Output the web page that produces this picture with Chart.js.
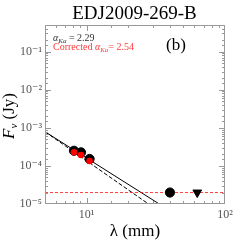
<!DOCTYPE html>
<html>
<head>
<meta charset="utf-8">
<script src="https://cdn.jsdelivr.net/npm/chart.js@4"></script>
<style>
  html, body { margin: 0; padding: 0; background: #fff; }
  #wrap { width: 249px; height: 249px; }
</style>
</head>
<body>
<div id="wrap"><canvas id="sed" width="249" height="249"></canvas></div>
<script>
// axis ranges and labelled ticks
const xRange = [5, 100];
const yRange = [1e-5, 0.5];
const xTickValues = [10, 100];
const xTickLabels = ['10¹', '10²'];
const yTickValues = [1e-5, 1e-4, 1e-3, 1e-2, 1e-1];
const yTickLabels = ['10⁻⁵', '10⁻⁴', '10⁻³', '10⁻²', '10⁻¹'];

// measured fluxes (mm, Jy)
const wavelengths = [8.1, 9.1, 10.5];
const fluxObserved = [2.5e-4, 2.27e-4, 1.52e-4];
const fluxCorrected = [2.27e-4, 1.93e-4, 1.35e-4];
const extraWavelengths = [40];
const extraFluxes = [2e-5];
const limitWavelengths = [63];
const limitFluxes = [2e-5];

// power-law fits, endpoints
const fitWavelengths = [5, 33.5];
const fitFluxes = [7.9e-4, 1e-5];
const fitCorrWavelengths = [5, 28];
const fitCorrFluxes = [7.9e-4, 1e-5];
const noiseWavelengths = [5, 100];
const noiseFluxes = [2e-5, 2e-5];

const serif = "'Liberation Serif', 'DejaVu Serif', serif";

function pts(xs, ys) {
    return xs.map(function(x, i) { return { x: x, y: ys[i] }; });
}

function labelFor(values, labels, v) {
    for (let i = 0; i < values.length; i++) {
        if (Math.abs(Math.log10(v) - Math.log10(values[i])) < 1e-6) return labels[i];
    }
    return '';
}

function isMajor(values, v) {
    return values.some(function(t) { return Math.abs(Math.log10(v) - Math.log10(t)) < 1e-6; });
}

// frame, inward ticks on all four sides, title and notes
const decorations = {
    id: 'decorations',
    afterDraw: function(chart) {
        const ctx = chart.ctx;
        const a = chart.chartArea;
        const xs = chart.scales.x, ys = chart.scales.y;
        ctx.save();
        ctx.strokeStyle = '#999';
        ctx.lineWidth = 1;
        ctx.strokeRect(a.left + 0.5, a.top + 0.5, a.right - a.left - 1, a.bottom - a.top - 1);
        ctx.beginPath();
        xs.ticks.forEach(function(t) {
            const px = Math.round(xs.getPixelForValue(t.value)) + 0.5;
            if (px < a.left + 1 || px > a.right - 1) return;
            const len = isMajor(xTickValues, t.value) ? 6 : 3;
            ctx.moveTo(px, a.bottom); ctx.lineTo(px, a.bottom - len);
            ctx.moveTo(px, a.top); ctx.lineTo(px, a.top + len);
        });
        ys.ticks.forEach(function(t) {
            const py = Math.round(ys.getPixelForValue(t.value)) + 0.5;
            if (py < a.top + 1 || py > a.bottom - 1) return;
            const len = isMajor(yTickValues, t.value) ? 6 : 3;
            ctx.moveTo(a.left, py); ctx.lineTo(a.left + len, py);
            ctx.moveTo(a.right, py); ctx.lineTo(a.right - len, py);
        });
        ctx.stroke();

        // title
        ctx.fillStyle = '#000';
        ctx.textAlign = 'center';
        ctx.textBaseline = 'middle';
        ctx.font = '19px ' + serif;
        ctx.fillText('EDJ2009-269-B', 134.5, 14);

        // x axis title
        ctx.font = '17px ' + serif;
        ctx.fillText('λ (mm)', 135, 232);

        // y axis title, rotated
        ctx.save();
        ctx.translate(10, 116);
        ctx.rotate(-Math.PI / 2);
        ctx.textAlign = 'left';
        ctx.textBaseline = 'middle';
        ctx.font = 'italic 17px ' + serif;
        const wF = ctx.measureText('F').width;
        ctx.font = 'italic 11px ' + serif;
        const wNu = ctx.measureText('ν').width;
        ctx.font = '17px ' + serif;
        const wRest = ctx.measureText(' (Jy)').width;
        let x0 = -(wF + wNu + wRest) / 2;
        ctx.font = 'italic 17px ' + serif;
        ctx.fillText('F', x0, 0);
        ctx.font = 'italic 11px ' + serif;
        ctx.fillText('ν', x0 + wF, 4);
        ctx.font = '17px ' + serif;
        ctx.fillText(' (Jy)', x0 + wF + wNu, 0);
        ctx.restore();

        // spectral index notes
        function alphaLine(prefix, suffix, x, y, color) {
            ctx.fillStyle = color;
            ctx.textAlign = 'left';
            ctx.textBaseline = 'alphabetic';
            ctx.font = '10px ' + serif;
            ctx.fillText(prefix, x, y);
            x += ctx.measureText(prefix).width;
            ctx.font = 'italic 10px ' + serif;
            ctx.fillText('α', x, y);
            x += ctx.measureText('α').width;
            ctx.font = 'italic 7px ' + serif;
            ctx.fillText('Ka', x, y + 2);
            x += ctx.measureText('Ka').width;
            ctx.font = '10px ' + serif;
            ctx.fillText(suffix, x, y);
        }
        alphaLine('', ' = 2.29', 53, 41, '#333');
        alphaLine('Corrected ', '= 2.54', 53, 50, '#ff3b3b');

        ctx.fillStyle = '#000';
        ctx.font = '17px ' + serif;
        ctx.textAlign = 'left';
        ctx.fillText('(b)', 166, 50);
        ctx.restore();
    }
};

new Chart(document.getElementById('sed'), {
    type: 'scatter',
    data: {
        datasets: [
            {
                label: 'corrected',
                data: pts(wavelengths, fluxCorrected),
                backgroundColor: '#ff0000',
                borderWidth: 0,
                pointRadius: 3.3,
                order: 1
            },
            {
                label: 'observed',
                data: pts(wavelengths, fluxObserved),
                backgroundColor: '#000',
                borderColor: '#000',
                pointRadius: 4.6,
                order: 2
            },
            {
                label: 'extra',
                data: pts(extraWavelengths, extraFluxes),
                backgroundColor: '#000',
                borderColor: '#000',
                pointRadius: 4.6,
                order: 2
            },
            {
                label: 'limit',
                data: pts(limitWavelengths, limitFluxes),
                pointStyle: 'triangle',
                rotation: 180,
                backgroundColor: '#000',
                borderColor: '#000',
                pointRadius: 5,
                order: 2
            },
            {
                label: 'noise',
                data: pts(noiseWavelengths, noiseFluxes),
                showLine: true,
                borderColor: 'rgba(255,0,0,0.75)',
                borderWidth: 1,
                borderDash: [3, 2],
                pointRadius: 0,
                order: 4
            },
            {
                label: 'fit',
                data: pts(fitWavelengths, fitFluxes),
                showLine: true,
                borderColor: '#000',
                borderWidth: 1,
                pointRadius: 0,
                order: 5
            },
            {
                label: 'fit corrected',
                data: pts(fitCorrWavelengths, fitCorrFluxes),
                showLine: true,
                borderColor: '#000',
                borderWidth: 1,
                borderDash: [4, 2],
                pointRadius: 0,
                order: 5
            }
        ]
    },
    options: {
        responsive: false,
        animation: false,
        events: [],
        layout: { padding: { top: 25, right: 24, left: 0, bottom: 0 } },
        plugins: {
            legend: { display: false },
            title: { display: false },
            tooltip: { enabled: false }
        },
        scales: {
            x: {
                type: 'logarithmic',
                min: xRange[0],
                max: xRange[1],
                grid: { display: false, drawTicks: false },
                border: { display: false },
                afterFit: function(s) { s.height = 45; },
                ticks: {
                    autoSkip: false,
                    maxRotation: 0,
                    padding: 4,
                    color: '#555',
                    font: { family: serif, size: 12 },
                    callback: function(v) { return labelFor(xTickValues, xTickLabels, v); }
                }
            },
            y: {
                type: 'logarithmic',
                min: yRange[0],
                max: yRange[1],
                grid: { display: false, drawTicks: false },
                border: { display: false },
                afterFit: function(s) { s.width = 45; },
                ticks: {
                    autoSkip: false,
                    padding: 3,
                    color: '#555',
                    font: { family: serif, size: 12 },
                    callback: function(v) { return labelFor(yTickValues, yTickLabels, v); }
                }
            }
        }
    },
    plugins: [decorations]
});
</script>
</body>
</html>
